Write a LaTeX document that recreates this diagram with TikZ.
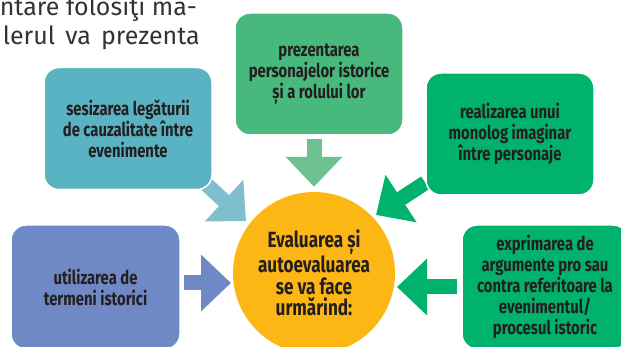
\documentclass[tikz,border=0pt]{standalone}
\usepackage{fontspec}
\setmainfont{Fira Sans}
\newfontfamily\cardfont[FakeStretch=0.78]{Fira Sans}
\usetikzlibrary{arrows.meta,backgrounds}
\definecolor{tealcard}{HTML}{5AB3C3}
\definecolor{tealarrow}{HTML}{7DBFCD}
\definecolor{leafcard}{HTML}{48B97C}
\definecolor{leafarrow}{HTML}{6DC290}
\definecolor{deepgreen}{HTML}{00B26B}
\definecolor{bluecard}{HTML}{6E89C5}
\definecolor{suncircle}{HTML}{FDB714}
\definecolor{inkdark}{HTML}{231F20}
\definecolor{pagegray}{HTML}{333333}
\tikzstyle{card}=[rectangle, rounded corners=15pt, draw=white, line width=1.5pt, minimum width=168pt, minimum height=122pt, align=center, text=inkdark, font=\cardfont\bfseries\fontsize{19}{21}\selectfont]
\tikzstyle{blockarrow}=[line width=15pt, -{Triangle[width=55pt,length=30pt]}]
\tikzstyle{pageline}=[anchor=base east, inner sep=0pt, text=pagegray, font=\fontsize{25}{29}\selectfont]

\begin{document}
\begin{tikzpicture}[x=1pt, y=-1pt]
				\useasboundingbox (0,0) rectangle (621,347);
				\clip (0,0) rectangle (621,347);
				% page text cut by the picture
				\node[pageline] (line1) at (197,16) {\makebox[197pt][s]{ntare folosiţi ma-}};
				\node[pageline] (line2) at (200,45) {\makebox[197pt][s]{lerul va prezenta}};
				% cards
				\node[card, fill=tealcard] (cause) at (128,128.5) {sesizarea legăturii\\de cauzalitate între\\evenimente};
				\node[card, fill=leafcard] (persons) at (319,74) {prezentarea\\personajelor istorice\\și a rolului lor};
				\node[card, fill=deepgreen] (monolog) at (510,134) {realizarea unui\\monolog imaginar\\între personaje};
				\node[card, fill=bluecard, minimum width=169pt, minimum height=124pt] (terms) at (95.5,287) {utilizarea de\\termeni istorici};
				\node[card, fill=deepgreen, minimum width=166pt, minimum height=124pt] (args) at (545,287) {exprimarea de\\argumente pro sau\\contra referitoare la\\evenimentul/\\procesul istoric};
				\node[circle, fill=suncircle, minimum size=162pt, inner sep=0pt, align=center, text=inkdark, font=\cardfont\bfseries\fontsize{22}{21.5}\selectfont] (eval) at (314,273) {Evaluarea și\\autoevaluarea\\se va face\\urmărind:};
				% arrow tips
				\coordinate (causetip) at (246,221);
				\coordinate (monologtip) at (376,215);
				\coordinate (termstip) at (231,283);
				\coordinate (argstip) at (397,287);
				\begin{scope}[on background layer]
					\draw[blockarrow, leafarrow, shorten <=3pt, shorten >=5pt] (persons.south -| eval.north) -- (eval.north);
					\draw[blockarrow, tealarrow, shorten <=-8pt] (cause.south east) -- (causetip);
					\draw[blockarrow, deepgreen] ([yshift=13pt]monolog.south west) -- (monologtip);
					\draw[blockarrow, bluecard, shorten <=3pt] (terms.east |- termstip) -- (termstip);
					\draw[blockarrow, deepgreen, shorten <=4pt] (args.west) -- (argstip);
				\end{scope}
			\end{tikzpicture}
\end{document}
